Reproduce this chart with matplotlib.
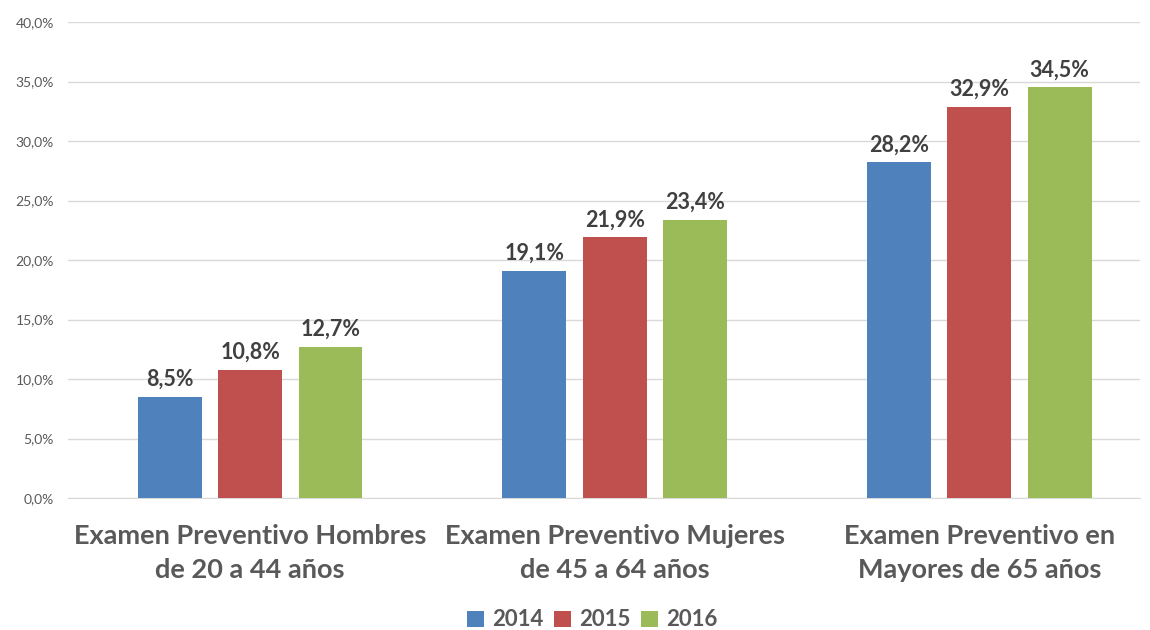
import matplotlib.pyplot as plt
import numpy as np
from matplotlib.ticker import FuncFormatter

categories = ['Examen Preventivo Hombres\nde 20 a 44 años',
              'Examen Preventivo Mujeres\nde 45 a 64 años',
              'Examen Preventivo en\nMayores de 65 años']
years = ['2014', '2015', '2016']
v2014 = [8.5, 19.1, 28.2]
v2015 = [10.8, 21.9, 32.9]
v2016 = [12.7, 23.4, 34.5]
colors = ['#4F81BD', '#C0504D', '#9BBB59']

plt.rcParams['font.family'] = ['Lato', 'DejaVu Sans']

fig = plt.figure(figsize=(11.5, 6.3), dpi=100)
ax = fig.add_axes([0.059, 0.2095, 0.932, 0.7555])

x = np.arange(len(categories))
pitch = 0.2205
width = 0.175

for i, (vals, yr) in enumerate(zip([v2014, v2015, v2016], years)):
    pos = x + (i - 1) * pitch
    ax.bar(pos, vals, width, color=colors[i], label=yr, zorder=3)
    for p, v in zip(pos, vals):
        ax.text(p, v + 0.6, f'{v:.1f}%'.replace('.', ','), ha='center', va='bottom',
                fontsize=15.5, fontweight='bold', color='#404040')

ax.set_ylim(0, 40)
ax.set_yticks(np.arange(0, 41, 5))
ax.yaxis.set_major_formatter(FuncFormatter(lambda v, p: f'{v:.1f}%'.replace('.', ',')))
ax.set_xlim(-0.5, 2.44)
ax.set_xticks(x)
ax.set_xticklabels(categories, fontsize=19.5, fontweight='bold', color='#595959',
                   linespacing=1.5)
ax.tick_params(axis='x', length=0, pad=19)
ax.tick_params(axis='y', length=0, labelsize=10, colors='#595959', pad=10)
ax.grid(axis='y', color='#D9D9D9', linewidth=1, zorder=0)
for s in ['top', 'right', 'left']:
    ax.spines[s].set_visible(False)
ax.spines['bottom'].set_color('#D9D9D9')

leg = fig.legend(loc='center', bbox_to_anchor=(0.515, 0.016), ncol=3, frameon=False,
                 prop={'size': 16, 'weight': 'bold'}, handlelength=0.75, handleheight=0.75,
                 columnspacing=0.5, handletextpad=0.35)
for t in leg.get_texts():
    t.set_color('#595959')

fig.savefig('out.png', dpi=100)
